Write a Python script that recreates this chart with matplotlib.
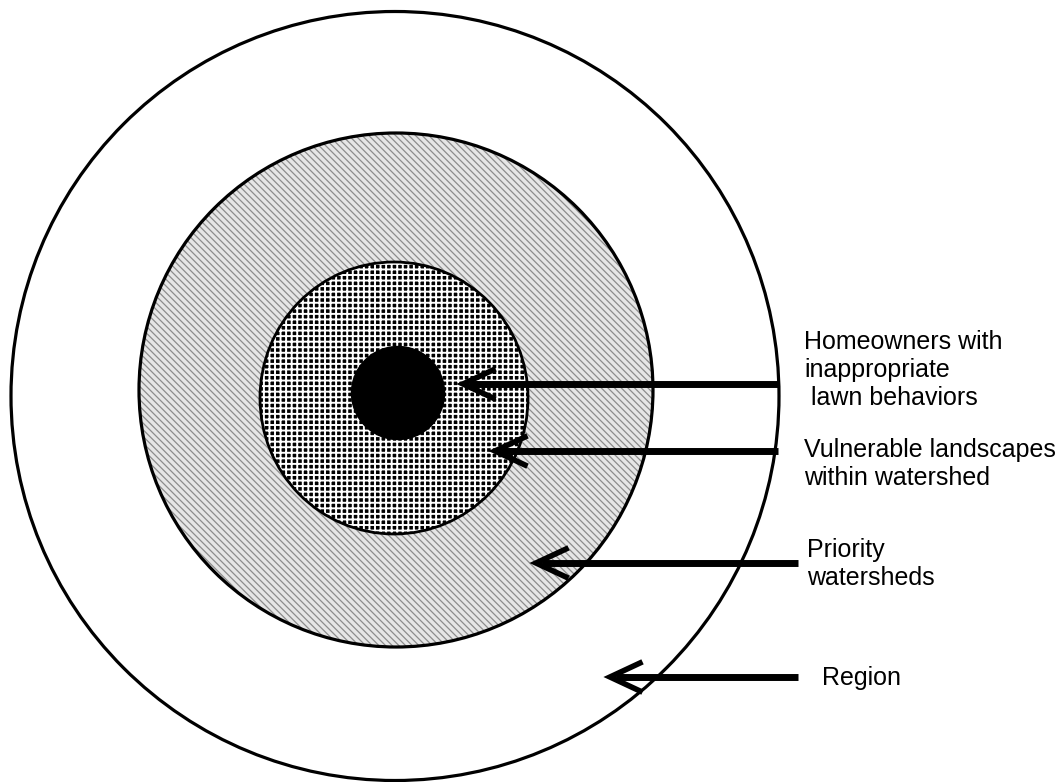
import matplotlib.pyplot as plt
from matplotlib.patches import Ellipse

plt.rcParams['font.family'] = ['Liberation Sans', 'DejaVu Sans']

# labels for each ring, from inside out
labels = ["Homeowners with\ninappropriate\n lawn behaviors",
          "Vulnerable landscapes\nwithin watershed",
          "Priority\nwatersheds",
          "Region"]

fig = plt.figure(figsize=(10.63, 7.82), dpi=100)
ax = fig.add_axes([0, 0, 1, 1])
ax.set_xlim(0, 1063)
ax.set_ylim(782, 0)
ax.axis('off')

# outer region
ax.add_patch(Ellipse((395, 396), 768, 769, facecolor='white', edgecolor='black', lw=2.3))
# priority watersheds (gray hatch)
plt.rcParams['hatch.linewidth'] = 0.9
plt.rcParams['hatch.color'] = '#8c8c8c'
ax.add_patch(Ellipse((396, 390), 514, 514, facecolor='#e6e6e6', edgecolor='#8c8c8c',
                     hatch='\\\\\\\\\\', lw=0))
ax.add_patch(Ellipse((396, 390), 514, 514, facecolor='none', edgecolor='black', lw=2.3))
# vulnerable landscapes (dense dots: black with white grid)
plt.rcParams['hatch.linewidth'] = 1.4
plt.rcParams['hatch.color'] = 'white'
ax.add_patch(Ellipse((394, 398), 268, 272, facecolor='black', edgecolor='white',
                     hatch='+++', lw=0))
ax.add_patch(Ellipse((394, 398), 268, 272, facecolor='none', edgecolor='black', lw=2))
# homeowners (solid)
ax.add_patch(Ellipse((398, 393), 93, 93, facecolor='black', edgecolor='black'))

# arrows: (tail x, tip x, y)
arrows = [(778, 463, 384), (778, 495, 451), (798, 536, 563), (798, 610, 677)]
for x0, x1, y in arrows:
    ax.plot([x0, x1 + 6], [y, y], color='black', lw=5, solid_capstyle='butt')
    ax.plot([x1 + 30, x1, x1 + 30], [y - 14, y, y + 14], color='black', lw=4,
            solid_joinstyle='miter')

fs = 18
ax.text(804, 370, labels[0], fontsize=fs, va='center', ha='left', linespacing=1.2)
ax.text(804, 464, labels[1], fontsize=fs, va='center', ha='left', linespacing=1.2)
ax.text(807, 564, labels[2], fontsize=fs, va='center', ha='left', linespacing=1.2)
ax.text(822, 678, labels[3], fontsize=fs, va='center', ha='left')

fig.savefig('out.png', dpi=100)
